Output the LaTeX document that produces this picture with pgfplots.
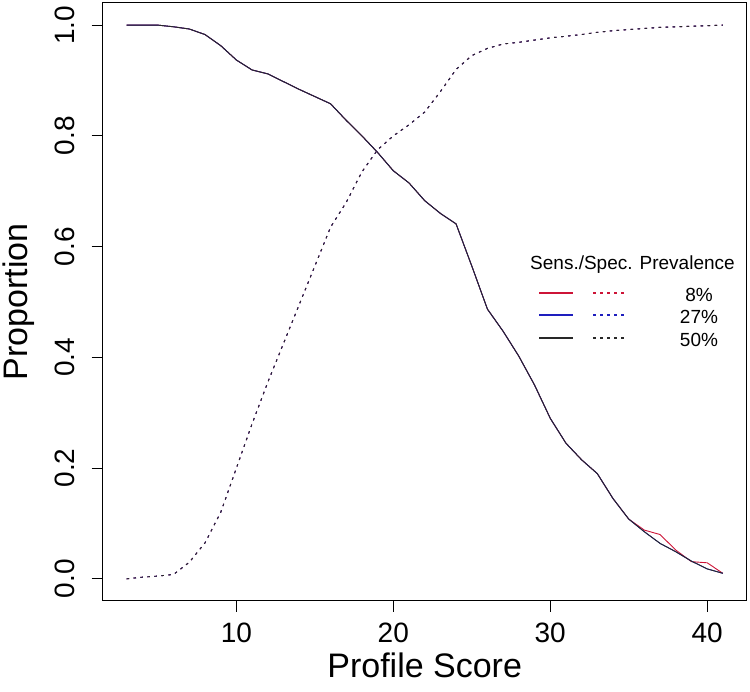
\documentclass[border=0pt]{standalone}
\usepackage{fontspec}
\setmainfont{Liberation Sans}
\usepackage{pgfplots}
\usepackage{pgfplotstable}
\pgfplotsset{compat=1.18}
\definecolor{sred}{RGB}{205,20,55}
\definecolor{sblue}{RGB}{30,30,190}
\definecolor{sblack}{RGB}{40,40,40}

% Sensitivity (solid) for the three prevalences
\pgfplotstableread{
x y
3 1.000
4 1.000
5 1.000
6 0.997
7 0.993
8 0.983
9 0.963
10 0.937
11 0.919
12 0.912
13 0.898
14 0.884
15 0.871
16 0.858
17 0.828
18 0.800
19 0.770
20 0.737
21 0.715
22 0.683
23 0.660
24 0.641
25 0.565
26 0.487
27 0.447
28 0.402
29 0.350
30 0.290
31 0.245
32 0.215
33 0.190
34 0.145
35 0.108
36 0.088
37 0.080
38 0.052
39 0.031
40 0.029
41 0.010
}\sensred
\pgfplotstableread{
x y
3 1.000
4 1.000
5 1.000
6 0.997
7 0.993
8 0.983
9 0.963
10 0.937
11 0.919
12 0.912
13 0.898
14 0.884
15 0.871
16 0.858
17 0.828
18 0.800
19 0.770
20 0.737
21 0.715
22 0.683
23 0.660
24 0.641
25 0.565
26 0.487
27 0.447
28 0.402
29 0.350
30 0.290
31 0.245
32 0.215
33 0.190
34 0.145
35 0.108
36 0.085
37 0.064
38 0.049
39 0.032
40 0.018
41 0.010
}\sensblue
\pgfplotstableread{
x y
3 1.000
4 1.000
5 1.000
6 0.997
7 0.993
8 0.983
9 0.963
10 0.937
11 0.919
12 0.912
13 0.898
14 0.884
15 0.871
16 0.858
17 0.828
18 0.800
19 0.770
20 0.737
21 0.715
22 0.683
23 0.660
24 0.641
25 0.565
26 0.487
27 0.447
28 0.402
29 0.350
30 0.290
31 0.245
32 0.215
33 0.190
34 0.145
35 0.108
36 0.085
37 0.064
38 0.049
39 0.032
40 0.018
41 0.010
}\sensblack
% Specificity (dotted), identical for the three prevalences
\pgfplotstableread{
x y
3 0.000
4 0.003
5 0.005
6 0.008
7 0.030
8 0.065
9 0.120
10 0.200
11 0.280
12 0.355
13 0.425
14 0.495
15 0.565
16 0.635
17 0.680
18 0.735
19 0.775
20 0.800
21 0.820
22 0.843
23 0.880
24 0.920
25 0.945
26 0.958
27 0.966
28 0.969
29 0.973
30 0.977
31 0.980
32 0.983
33 0.987
34 0.990
35 0.992
36 0.994
37 0.996
38 0.997
39 0.998
40 0.999
41 1.000
}\spec

\begin{document}
\begin{tikzpicture}
\useasboundingbox (-102.7pt,-91pt) rectangle (647.3pt,601pt);
\begin{axis}[
  at={(0pt,0pt)}, anchor=south west,
  scale only axis, width=644pt, height=598pt,
  xmin=1.48, xmax=42.52, ymin=-0.04, ymax=1.04,
  axis line style={line width=1pt, black},
  tick align=outside, tick pos=left,
  major tick length=11pt,
  every tick/.style={black, line width=1pt},
  xtick={10,20,30,40},
  ytick={0,0.2,0.4,0.6,0.8,1},
  yticklabels={0.0,0.2,0.4,0.6,0.8,1.0},
  /pgf/number format/assume math mode=true,
  xticklabel style={font=\fontsize{28}{28}\selectfont, inner sep=0pt, anchor=north},
  yticklabel style={font=\fontsize{28}{28}\selectfont, inner sep=0pt, rotate=90, anchor=south},
  xticklabel shift=11pt,
  yticklabel shift=16.7pt,
  xlabel={Profile Score}, ylabel={Proportion},
  xlabel style={at={(axis description cs:0.5,-0.087)}, anchor=north, inner sep=0pt, font=\fontsize{34}{34}\selectfont},
  ylabel style={at={(axis description cs:-0.1548,0.5)}, anchor=north, inner sep=0pt, font=\fontsize{34}{34}\selectfont},
  clip=false,
]
\addplot[sred, line width=0.9pt] table {\sensred};
\addplot[sblue, line width=0.9pt] table {\sensblue};
\addplot[sblack, line width=0.9pt] table {\sensblack};
\addplot[sred, line width=0.9pt, dash pattern=on 2.5pt off 4.5pt] table {\spec};
\addplot[sblue, line width=0.9pt, dash pattern=on 2.5pt off 4.5pt] table {\spec};
\addplot[sblack, line width=0.9pt, dash pattern=on 2.5pt off 4.5pt] table {\spec};
\end{axis}
% legend (drawn relative to the axis box's lower-left corner)
\node[anchor=base west, inner sep=0pt, font=\fontsize{19}{19}\selectfont] at (427.3pt,331pt) {Sens./Spec. Prevalence};
\draw[sred, line width=2pt] (436.3pt,308pt) -- (470.3pt,308pt);
\draw[sred, line width=2pt, dash pattern=on 2.5pt off 4.5pt] (490.3pt,308pt) -- (523.3pt,308pt);
\draw[sblue, line width=2pt] (436.3pt,286pt) -- (470.3pt,286pt);
\draw[sblue, line width=2pt, dash pattern=on 2.5pt off 4.5pt] (490.3pt,286pt) -- (523.3pt,286pt);
\draw[sblack, line width=2pt] (436.3pt,263pt) -- (470.3pt,263pt);
\draw[sblack, line width=2pt, dash pattern=on 2.5pt off 4.5pt] (490.3pt,263pt) -- (523.3pt,263pt);
\node[anchor=base, inner sep=0pt, font=\fontsize{19}{19}\selectfont] at (596.3pt,299.5pt) {8\%};
\node[anchor=base, inner sep=0pt, font=\fontsize{19}{19}\selectfont] at (596.3pt,277pt) {27\%};
\node[anchor=base, inner sep=0pt, font=\fontsize{19}{19}\selectfont] at (596.3pt,254.5pt) {50\%};
\end{tikzpicture}
\end{document}
